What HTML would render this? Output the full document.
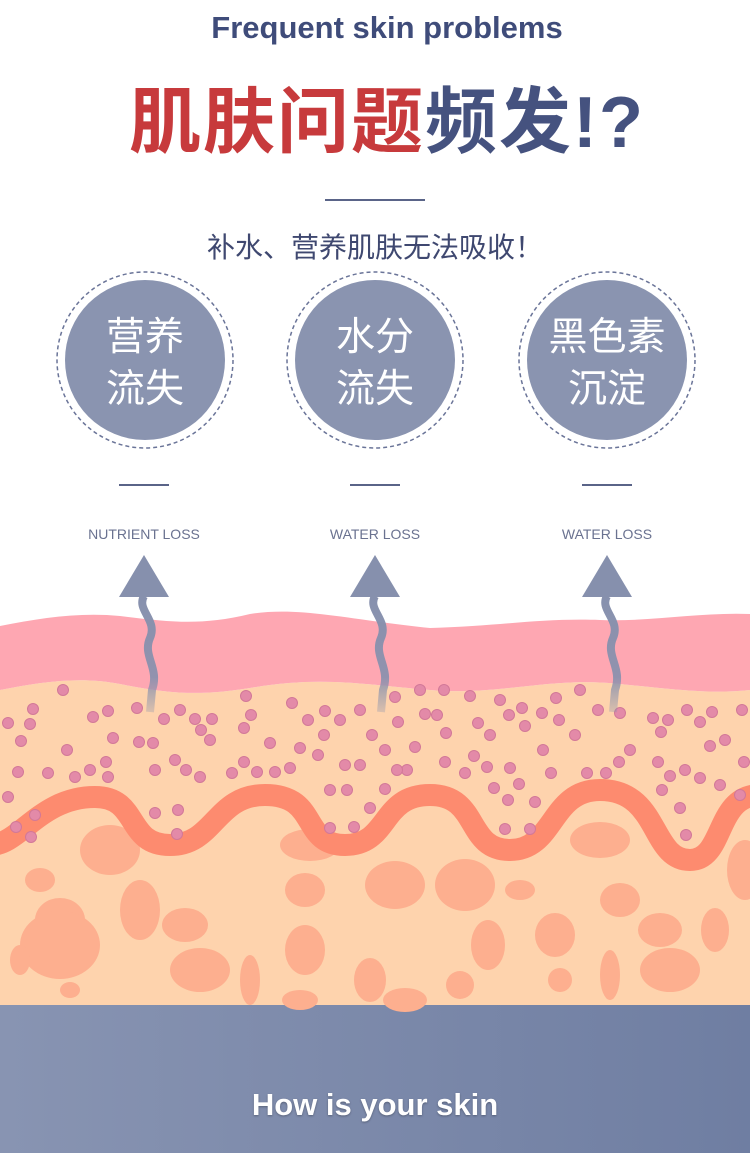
<!DOCTYPE html>
<html><head><meta charset="utf-8"><style>
body{margin:0;width:750px;height:1153px;overflow:hidden;background:#fff;font-family:"Liberation Sans","Noto Sans CJK SC",sans-serif;position:relative}
.t{position:absolute;left:0;width:750px;text-align:center}
</style></head><body>
<div class="t" style="top:10px;left:12px;font-size:31px;font-weight:bold;color:#3f4c7a">Frequent skin problems</div>
<div class="t" style="top:78px;left:12px;font-size:72px;font-weight:bold;letter-spacing:2px;line-height:90px"><span style="color:#c73a3c">肌肤问题</span><span style="color:#45527f">频发!?</span></div>
<div style="position:absolute;left:325px;top:199px;width:100px;height:2px;background:#5a6488"></div>
<div class="t" style="top:226px;font-size:28px;color:#3f4870">补水、营养肌肤无法吸收！</div>
<svg style="position:absolute;left:0;top:0" width="750" height="1153">
<defs>
<linearGradient id="fade" x1="0" y1="0" x2="0" y2="1"><stop offset="0" stop-color="#8690ad"/><stop offset="0.7" stop-color="#8690ad" stop-opacity="0.9"/><stop offset="1" stop-color="#8690ad" stop-opacity="0.3"/></linearGradient>
<linearGradient id="blue" x1="0" y1="0" x2="1" y2="0"><stop offset="0" stop-color="#8894b2"/><stop offset="1" stop-color="#6f7ea2"/></linearGradient>
</defs>
<g fill="#8a94b0">
<circle cx="145" cy="360" r="80"/><circle cx="375" cy="360" r="80"/><circle cx="607" cy="360" r="80"/>
</g>
<g fill="none" stroke="#6a7498" stroke-width="1.5" stroke-dasharray="4 3">
<circle cx="145" cy="360" r="88"/><circle cx="375" cy="360" r="88"/><circle cx="607" cy="360" r="88"/>
</g>
<g fill="#fff" font-size="39" text-anchor="middle" font-family="Liberation Sans,Noto Sans CJK SC,sans-serif">
<text x="145" y="350">营养</text><text x="145" y="402">流失</text>
<text x="375" y="350">水分</text><text x="375" y="402">流失</text>
<text x="607" y="350">黑色素</text><text x="607" y="402">沉淀</text>
</g>
<g stroke="#5a6488" stroke-width="2"><line x1="119" y1="485" x2="169" y2="485"/><line x1="350" y1="485" x2="400" y2="485"/><line x1="582" y1="485" x2="632" y2="485"/></g>
<g fill="#6a7290" font-size="14" text-anchor="middle" font-family="Liberation Sans,sans-serif">
<text x="144" y="539">NUTRIENT LOSS</text><text x="375" y="539">WATER LOSS</text><text x="607" y="539">WATER LOSS</text>
</g>
<rect x="0" y="1005" width="750" height="148" fill="url(#blue)"/>
<path d="M0,1005 V690 C40,682 80,676 120,684 C170,694 200,696 250,688 C320,676 360,684 430,690 C500,696 550,676 620,684 C680,690 710,694 750,690 V1005Z" fill="#fed3ad"/>
<path d="M0,626 C40,618 80,612 120,616 C170,622 200,626 250,614 C300,606 350,620 430,628 C500,626 540,618 600,620 C650,622 700,612 750,614 V690 C710,694 680,690 620,684 C550,676 500,696 430,690 C360,684 320,676 250,688 C200,696 170,694 120,684 C80,676 40,682 0,690Z" fill="#fea7b2"/>
<g fill="#fdaf8f">
<ellipse cx="110" cy="850" rx="30" ry="25"/><ellipse cx="60" cy="920" rx="25" ry="22"/><ellipse cx="40" cy="880" rx="15" ry="12"/>
<ellipse cx="60" cy="945" rx="40" ry="34"/><ellipse cx="140" cy="910" rx="20" ry="30"/><ellipse cx="185" cy="925" rx="23" ry="17"/>
<ellipse cx="200" cy="970" rx="30" ry="22"/><ellipse cx="250" cy="980" rx="10" ry="25"/><ellipse cx="305" cy="890" rx="20" ry="17"/>
<ellipse cx="305" cy="950" rx="20" ry="25"/><ellipse cx="370" cy="980" rx="16" ry="22"/><ellipse cx="395" cy="885" rx="30" ry="24"/>
<ellipse cx="465" cy="885" rx="30" ry="26"/><ellipse cx="488" cy="945" rx="17" ry="25"/><ellipse cx="555" cy="935" rx="20" ry="22"/>
<ellipse cx="620" cy="900" rx="20" ry="17"/><ellipse cx="660" cy="930" rx="22" ry="17"/><ellipse cx="670" cy="970" rx="30" ry="22"/>
<ellipse cx="715" cy="930" rx="14" ry="22"/><ellipse cx="610" cy="975" rx="10" ry="25"/><ellipse cx="520" cy="890" rx="15" ry="10"/>
<ellipse cx="405" cy="1000" rx="22" ry="12"/><ellipse cx="300" cy="1000" rx="18" ry="10"/><ellipse cx="20" cy="960" rx="10" ry="15"/>
<ellipse cx="310" cy="845" rx="30" ry="16"/><ellipse cx="600" cy="840" rx="30" ry="18"/><ellipse cx="745" cy="870" rx="18" ry="30"/>
<ellipse cx="560" cy="980" rx="12" ry="12"/><ellipse cx="460" cy="985" rx="14" ry="14"/><ellipse cx="70" cy="990" rx="10" ry="8"/>
</g>
<path d="M-10,845 C20,845 40,797 95,797 C140,797 125,845 170,845 C215,845 215,795 265,795 C320,795 300,845 345,845 C390,845 380,795 430,795 C480,795 465,850 510,850 C555,850 550,790 600,790 C660,790 650,860 690,860 C725,860 715,795 760,795" fill="none" stroke="#fd8b6f" stroke-width="22"/>
<g fill="#e38aa8" stroke="#d27898" stroke-width="1">
<circle cx="63" cy="690" r="5.5"/><circle cx="33" cy="709" r="5.5"/><circle cx="8" cy="723" r="5.5"/><circle cx="30" cy="724" r="5.5"/><circle cx="21" cy="741" r="5.5"/><circle cx="67" cy="750" r="5.5"/><circle cx="18" cy="772" r="5.5"/><circle cx="48" cy="773" r="5.5"/><circle cx="8" cy="797" r="5.5"/><circle cx="35" cy="815" r="5.5"/><circle cx="16" cy="827" r="5.5"/><circle cx="31" cy="837" r="5.5"/>
<circle cx="93" cy="717" r="5.5"/><circle cx="108" cy="711" r="5.5"/><circle cx="113" cy="738" r="5.5"/><circle cx="75" cy="777" r="5.5"/><circle cx="90" cy="770" r="5.5"/><circle cx="108" cy="777" r="5.5"/><circle cx="106" cy="762" r="5.5"/><circle cx="137" cy="708" r="5.5"/><circle cx="139" cy="742" r="5.5"/><circle cx="153" cy="743" r="5.5"/><circle cx="155" cy="770" r="5.5"/><circle cx="164" cy="719" r="5.5"/><circle cx="180" cy="710" r="5.5"/><circle cx="195" cy="719" r="5.5"/><circle cx="212" cy="719" r="5.5"/><circle cx="201" cy="730" r="5.5"/><circle cx="186" cy="770" r="5.5"/><circle cx="175" cy="760" r="5.5"/><circle cx="200" cy="777" r="5.5"/><circle cx="210" cy="740" r="5.5"/><circle cx="246" cy="696" r="5.5"/><circle cx="251" cy="715" r="5.5"/><circle cx="244" cy="728" r="5.5"/><circle cx="270" cy="743" r="5.5"/><circle cx="244" cy="762" r="5.5"/><circle cx="232" cy="773" r="5.5"/><circle cx="257" cy="772" r="5.5"/><circle cx="275" cy="772" r="5.5"/><circle cx="178" cy="810" r="5.5"/><circle cx="177" cy="834" r="5.5"/><circle cx="155" cy="813" r="5.5"/>
<circle cx="292" cy="703" r="5.5"/><circle cx="308" cy="720" r="5.5"/><circle cx="325" cy="711" r="5.5"/><circle cx="340" cy="720" r="5.5"/><circle cx="324" cy="735" r="5.5"/><circle cx="300" cy="748" r="5.5"/><circle cx="318" cy="755" r="5.5"/><circle cx="290" cy="768" r="5.5"/><circle cx="345" cy="765" r="5.5"/><circle cx="360" cy="765" r="5.5"/><circle cx="330" cy="790" r="5.5"/><circle cx="347" cy="790" r="5.5"/><circle cx="360" cy="710" r="5.5"/><circle cx="372" cy="735" r="5.5"/><circle cx="385" cy="750" r="5.5"/><circle cx="395" cy="697" r="5.5"/><circle cx="420" cy="690" r="5.5"/><circle cx="444" cy="690" r="5.5"/><circle cx="398" cy="722" r="5.5"/><circle cx="407" cy="770" r="5.5"/><circle cx="397" cy="770" r="5.5"/><circle cx="385" cy="789" r="5.5"/><circle cx="370" cy="808" r="5.5"/><circle cx="354" cy="827" r="5.5"/><circle cx="330" cy="828" r="5.5"/><circle cx="415" cy="747" r="5.5"/><circle cx="425" cy="714" r="5.5"/><circle cx="437" cy="715" r="5.5"/><circle cx="446" cy="733" r="5.5"/><circle cx="445" cy="762" r="5.5"/><circle cx="470" cy="696" r="5.5"/><circle cx="478" cy="723" r="5.5"/><circle cx="474" cy="756" r="5.5"/><circle cx="465" cy="773" r="5.5"/><circle cx="487" cy="767" r="5.5"/><circle cx="490" cy="735" r="5.5"/><circle cx="500" cy="700" r="5.5"/><circle cx="509" cy="715" r="5.5"/><circle cx="510" cy="768" r="5.5"/><circle cx="494" cy="788" r="5.5"/><circle cx="508" cy="800" r="5.5"/><circle cx="519" cy="784" r="5.5"/><circle cx="505" cy="829" r="5.5"/><circle cx="530" cy="829" r="5.5"/><circle cx="535" cy="802" r="5.5"/><circle cx="522" cy="708" r="5.5"/><circle cx="542" cy="713" r="5.5"/><circle cx="559" cy="720" r="5.5"/><circle cx="525" cy="726" r="5.5"/><circle cx="543" cy="750" r="5.5"/><circle cx="551" cy="773" r="5.5"/><circle cx="575" cy="735" r="5.5"/>
<circle cx="587" cy="773" r="5.5"/><circle cx="606" cy="773" r="5.5"/><circle cx="619" cy="762" r="5.5"/><circle cx="630" cy="750" r="5.5"/><circle cx="598" cy="710" r="5.5"/><circle cx="620" cy="713" r="5.5"/><circle cx="653" cy="718" r="5.5"/><circle cx="668" cy="720" r="5.5"/><circle cx="661" cy="732" r="5.5"/><circle cx="687" cy="710" r="5.5"/><circle cx="700" cy="722" r="5.5"/><circle cx="712" cy="712" r="5.5"/><circle cx="725" cy="740" r="5.5"/><circle cx="742" cy="710" r="5.5"/><circle cx="710" cy="746" r="5.5"/><circle cx="658" cy="762" r="5.5"/><circle cx="670" cy="776" r="5.5"/><circle cx="685" cy="770" r="5.5"/><circle cx="700" cy="778" r="5.5"/><circle cx="720" cy="785" r="5.5"/><circle cx="744" cy="762" r="5.5"/><circle cx="662" cy="790" r="5.5"/><circle cx="680" cy="808" r="5.5"/><circle cx="686" cy="835" r="5.5"/><circle cx="580" cy="690" r="5.5"/><circle cx="556" cy="698" r="5.5"/><circle cx="740" cy="795" r="5.5"/>
</g>
<g fill="none" stroke="url(#fade)" stroke-width="8" stroke-linecap="butt">
<path d="M144,596 C136,610 158,620 150,638 C142,656 160,668 152,690 L150,712"/>
<path d="M375,596 C367,610 389,620 381,638 C373,656 391,668 383,690 L381,712"/>
<path d="M607,596 C599,610 621,620 613,638 C605,656 623,668 615,690 L613,712"/>
</g>
<g fill="#8690ad">
<polygon points="144,555 119,597 169,597"/><polygon points="375,555 350,597 400,597"/><polygon points="607,555 582,597 632,597"/>
</g>
<text x="375" y="1115" fill="#fff" font-size="31" font-weight="bold" text-anchor="middle" font-family="Liberation Sans,sans-serif" style="text-shadow:0 1px 2px rgba(0,0,0,.3)">How is your skin</text>
</svg>
</body></html>
